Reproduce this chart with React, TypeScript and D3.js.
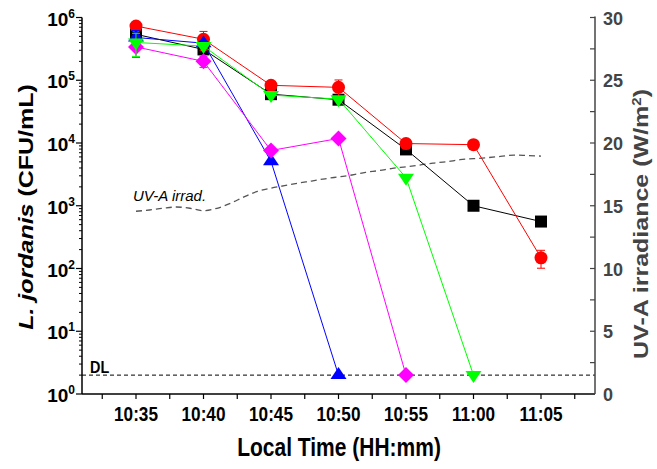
import React from "react"
import * as d3 from "d3"

// time in minutes after 10:00
const TIMES = [35, 40, 45, 50, 55, 60, 65]
const TIME_LABELS = ["10:35", "10:40", "10:45", "10:50", "10:55", "11:00", "11:05"]

// L. jordanis counts (CFU/mL) per treatment
const BLACK = [5.4e5, 3.1e5, 6.0e4, 4.9e4, 7.9e3, 1.0e3, 5.6e2]
const BLACK_ERR = [0, 0, 0, 0, 0, 0, 0]
const RED = [7.3e5, 4.5e5, 8.3e4, 7.7e4, 9.8e3, 9.4e3, 1.48e2]
const RED_ERR = [0, 1.5e5, 0, 2.4e4, 0, 0, 47]
const BLUE = [4.8e5, 3.9e5, 5.1e3, 2]
const BLUE_ERR = [1.4e5, 3e4, 0, 0]
const MAGENTA = [3.4e5, 2.0e5, 7.6e3, 1.18e4, 2]
const MAGENTA_ERR = [1.1e5, 4e4, 0, 0, 0]
const GREEN = [4.0e5, 3.5e5, 5.8e4, 5.0e4, 2.8e3, 2]
const GREEN_ERR = [1.6e5, 0, 0, 0, 0, 0]

const DETECTION_LIMIT = 2

// UV-A irradiance (W/m2), one reading per minute
const UV_TIMES = [35, 36, 37, 38, 39, 40, 41, 42, 43, 44, 45, 46, 47, 48, 49, 50, 51, 52, 53, 54, 55, 56, 57, 58, 59, 60, 61, 62, 63, 64, 65]
const UV_VALUES = [14.56, 14.66, 14.8, 14.9, 14.8, 14.6, 14.8, 15.2, 15.7, 16.15, 16.4, 16.6, 16.8, 16.97, 17.15, 17.3, 17.45, 17.66, 17.8, 17.98, 18.1, 18.24, 18.4, 18.5, 18.67, 18.75, 18.83, 18.93, 19.04, 19.0, 18.96]

const X_TICKS = [32.5, 35, 37.5, 40, 42.5, 45, 47.5, 50, 52.5, 55, 57.5, 60, 62.5, 65, 67.5]
const Y_DECADES = [0, 1, 2, 3, 4, 5, 6]
const YR_TICKS = [0, 2.5, 5, 7.5, 10, 12.5, 15, 17.5, 20, 22.5, 25, 27.5, 30]
const YR_LABELS = [0, 5, 10, 15, 20, 25, 30]

const SERIES = [
  { name: "black", color: "#000000", shape: "square", values: BLACK, err: BLACK_ERR },
  { name: "red", color: "#ff0000", shape: "circle", values: RED, err: RED_ERR },
  { name: "blue", color: "#0000ff", shape: "up", values: BLUE, err: BLUE_ERR },
  { name: "magenta", color: "#ff00ff", shape: "diamond", values: MAGENTA, err: MAGENTA_ERR },
  { name: "green", color: "#00ff00", shape: "down", values: GREEN, err: GREEN_ERR },
]

const FONT = "'Liberation Sans', Arial, sans-serif"

function symbolPath(shape: string, cx: number, cy: number) {
  if (shape === "circle") {
    const r = 6.5
    return `M${cx - r},${cy}a${r},${r} 0 1,0 ${2 * r},0a${r},${r} 0 1,0 ${-2 * r},0Z`
  }
  if (shape === "square") {
    const h = 6
    return `M${cx - h},${cy - h}H${cx + h}V${cy + h}H${cx - h}Z`
  }
  if (shape === "diamond") {
    const h = 8
    return `M${cx},${cy - h}L${cx + h},${cy}L${cx},${cy + h}L${cx - h},${cy}Z`
  }
  const w = 8
  const t = 8
  const b = 4
  if (shape === "up") return `M${cx},${cy - t}L${cx + w},${cy + b}L${cx - w},${cy + b}Z`
  return `M${cx},${cy + t}L${cx + w},${cy - b}L${cx - w},${cy - b}Z`
}

export default function App() {
  const width = 657
  const height = 469
  const left = 82
  const right = 595
  const bottom = 394
  const top = 17.5

  const x = d3.scaleLinear().domain([31, 69]).range([left, right])
  const y = d3.scaleLog().domain([1, 1e6]).range([bottom, top])
  const yR = d3.scaleLinear().domain([0, 30]).range([bottom, top])

  const uvLine = d3
    .line<number>()
    .x((_, i) => x(UV_TIMES[i]))
    .y(d => yR(d))
    .curve(d3.curveMonotoneX)

  const seriesLine = d3
    .line<number>()
    .x((_, i) => x(TIMES[i]))
    .y(d => y(d))

  const minorY: number[] = []
  Y_DECADES.slice(0, -1).forEach(p => {
    for (let k = 2; k <= 9; k++) minorY.push(k * Math.pow(10, p))
  })

  return (
    <div style={{ position: "absolute", left: 0, top: 0 }}>
      <svg width={width} height={height} style={{ display: "block", fontFamily: FONT }}>
        <rect width={width} height={height} fill="#ffffff" />

        {/* detection limit */}
        <line
          x1={left}
          x2={right}
          y1={y(DETECTION_LIMIT)}
          y2={y(DETECTION_LIMIT)}
          stroke="#000"
          strokeWidth={1}
          strokeDasharray="4,3"
        />
        <text x={90} y={373} fontSize={16} fontWeight="bold" transform="translate(9,0) scale(0.9,1)" fill="#000">
          DL
        </text>

        {/* UV-A irradiance */}
        <path
          d={uvLine(UV_VALUES) || ""}
          fill="none"
          stroke="#555"
          strokeWidth={1.3}
          strokeDasharray="6,4"
        />
        <text x={133} y={200.5} fontSize={15} fontStyle="italic" fill="#000">
          UV-A irrad.
        </text>

        {/* series */}
        {SERIES.map(s => (
          <g key={s.name}>
            <path d={seriesLine(s.values) || ""} fill="none" stroke={s.color} strokeWidth={1} />
            {s.values.map((v, i) => {
              const e = s.err[i]
              if (!e) return null
              const cx = x(TIMES[i])
              const y1 = y(v + e)
              const y2 = y(Math.max(v - e, 1))
              return (
                <g key={i} stroke={s.color} strokeWidth={1}>
                  <line x1={cx} x2={cx} y1={y1} y2={y2} />
                  <line x1={cx - 4} x2={cx + 4} y1={y1} y2={y1} />
                  <line x1={cx - 4} x2={cx + 4} y1={y2} y2={y2} />
                </g>
              )
            })}
            {s.values.map((v, i) => (
              <path key={"m" + i} d={symbolPath(s.shape, x(TIMES[i]), y(v))} fill={s.color} />
            ))}
          </g>
        ))}

        {/* left axis */}
        <line x1={left} x2={left} y1={top} y2={bottom} stroke="#000" strokeWidth={1.5} />
        {Y_DECADES.map(p => (
          <g key={p}>
            <line x1={left - 6} x2={left} y1={y(Math.pow(10, p))} y2={y(Math.pow(10, p))} stroke="#000" strokeWidth={1.2} />
            <text
              x={75}
              y={y(Math.pow(10, p)) + 8}
              textAnchor="end"
              fontSize={19}
              fontWeight="bold"
              fill="#000"
            >
              10
              <tspan fontSize={12} dy={-8}>
                {p}
              </tspan>
            </text>
          </g>
        ))}
        {minorY.map(v => (
          <line key={v} x1={left - 3} x2={left} y1={y(v)} y2={y(v)} stroke="#000" strokeWidth={1} />
        ))}

        {/* bottom axis */}
        <line x1={left} x2={right} y1={bottom} y2={bottom} stroke="#000" strokeWidth={1.5} />
        {X_TICKS.map(t => (
          <line key={t} x1={x(t)} x2={x(t)} y1={bottom} y2={bottom + 5} stroke="#000" strokeWidth={1.2} />
        ))}
        {TIMES.map((t, i) => (
          <text
            key={t}
            transform={`translate(${x(t)},421) scale(0.86,1)`}
            textAnchor="middle"
            fontSize={20}
            fontWeight="bold"
            fill="#000"
          >
            {TIME_LABELS[i]}
          </text>
        ))}
        <text
          transform={`translate(${(left + right) / 2 + 0.5},456) scale(0.84,1)`}
          textAnchor="middle"
          fontSize={25}
          fontWeight="bold"
          fill="#000"
        >
          Local Time (HH:mm)
        </text>

        {/* left title */}
        <text
          transform="translate(33,207) scale(0.84,1) rotate(-90)"
          textAnchor="middle"
          fontSize={25}
          fontWeight="bold"
          fill="#000"
        >
          <tspan fontStyle="italic">L. jordanis</tspan> (CFU/mL)
        </text>

        {/* right axis */}
        <line x1={right} x2={right} y1={top - 1} y2={bottom} stroke="#444" strokeWidth={1.5} />
        {YR_TICKS.map(t => (
          <line key={t} x1={right - 5} x2={right} y1={yR(t)} y2={yR(t)} stroke="#444" strokeWidth={1.2} />
        ))}
        {YR_LABELS.map(t => (
          <text
            key={t}
            transform={`translate(603,${yR(t) + 7}) scale(0.95,1)`}
            fontSize={19}
            fontWeight="bold"
            fill="#444"
          >
            {t}
          </text>
        ))}
        <text
          transform="translate(648,224) scale(0.82,1) rotate(-90)"
          textAnchor="middle"
          fontSize={25}
          fontWeight="bold"
          fill="#444"
        >
          UV-A irradiance (W/m
          <tspan fontSize={15} dy={-9}>
            2
          </tspan>
          <tspan dy={9}>)</tspan>
        </text>
      </svg>
    </div>
  )
}
